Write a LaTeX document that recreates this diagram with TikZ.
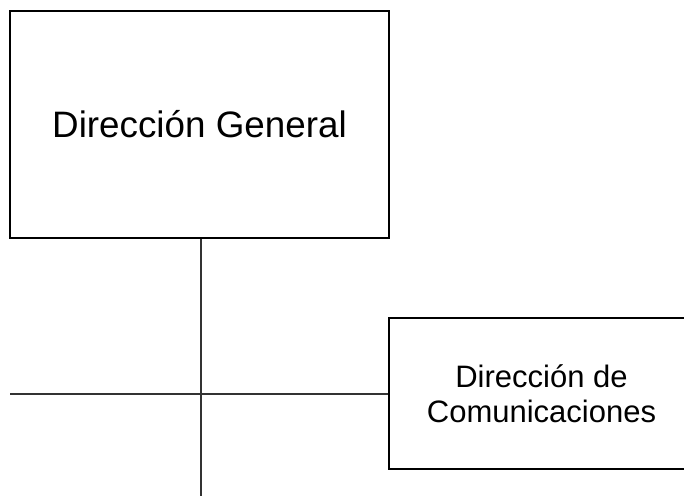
\documentclass[tikz,border=0pt]{standalone}
\usepackage{fontspec}
\setmainfont{Liberation Sans}
\begin{document}
\begin{tikzpicture}[x=1pt,y=-1pt,
  orgbox/.style={draw=black,line width=2.2pt,fill=white,inner sep=0pt,align=center},
  conn/.style={draw=black!80,line width=1.1pt}]
\useasboundingbox (0,0) rectangle (684,495);
\node[orgbox,minimum width=379pt,minimum height=227pt,font=\fontsize{36.8}{42}\selectfont] (dg) at (199.5,124.5) {Dirección General};
\node[orgbox,minimum width=305pt,minimum height=151pt,font=\fontsize{31}{35}\selectfont] (dc) at (541.5,393.5) {Dirección de\\Comunicaciones};
\coordinate (bot) at (201,496);
\coordinate (lft) at (10,394);
\draw[conn] (dg.south -| bot) -- (bot);
\draw[conn] (lft) -- (lft -| dc.west);
\end{tikzpicture}
\end{document}
